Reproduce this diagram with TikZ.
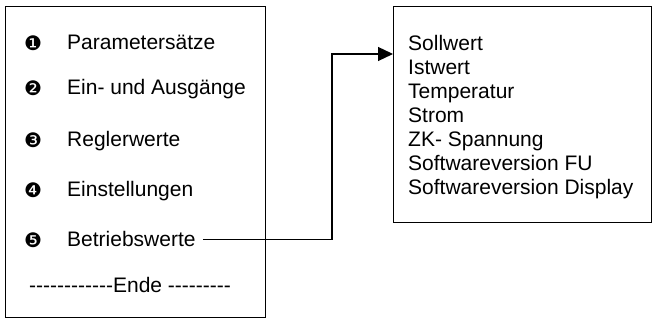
\documentclass[tikz,border=0pt]{standalone}
\usepackage{fontspec}
\setmainfont{Liberation Sans}
\newfontfamily\dingfont{DejaVu Sans}
\usetikzlibrary{arrows.meta}
\newcommand\hyph{\mbox{-}}
\begin{document}
\begin{tikzpicture}[x=1pt,y=-1pt,
  txt/.style={font=\fontsize{21}{24}\selectfont, inner sep=0pt, anchor=base west},
  bul/.style={font=\dingfont\fontsize{20}{20}\selectfont, inner sep=0pt},
  box/.style={draw, line width=1.4pt, inner sep=0pt, anchor=north west},
  conn/.style={line width=1.2pt},
  arr/.style={-{Triangle[length=15pt,width=14pt]}}
]
\useasboundingbox (0,0) rectangle (653,320);
% left box
\node[box, minimum width=260pt, minimum height=311pt] (lbox) at (5,6) {};
\node[bul] (n1) at (33,43) {❶};
\node[txt] (t1) at (67,50) {Parametersätze};
\node[bul] (n2) at (33,88) {❷};
\node[txt] (t2) at (67,95) {Ein- und Ausgänge};
\node[bul] (n3) at (33,140) {❸};
\node[txt] (t3) at (67,147) {Reglerwerte};
\node[bul] (n4) at (33,190) {❹};
\node[txt] (t4) at (67,197) {Einstellungen};
\node[bul] (n5) at (33,240) {❺};
\node[txt] (t5) at (67,247) {Betriebswerte};
\node[txt] (ende) at (29,293) {\hyph\hyph\hyph\hyph\hyph\hyph\hyph\hyph\hyph\hyph\hyph\hyph Ende \hyph\hyph\hyph\hyph\hyph\hyph\hyph\hyph\hyph};
% right box
\node[box, minimum width=258pt, minimum height=216pt] (rbox) at (393,6) {};
\node[txt] (r1) at (408,51) {Sollwert};
\node[txt] (r2) at (408,75) {Istwert};
\node[txt] (r3) at (408,99) {Temperatur};
\node[txt] (r4) at (408,123) {Strom};
\node[txt] (r5) at (408,147) {ZK- Spannung};
\node[txt] (r6) at (408,171) {Softwareversion FU};
\node[txt] (r7) at (408,195) {Softwareversion Display};
% connector
\coordinate (bend) at (332,54);
\coordinate (tgt) at ([yshift=-48pt]rbox.north west);
\draw[conn, arr, shorten <=7pt] (t5.east) -| (bend) -- (tgt);
\end{tikzpicture}
\end{document}
